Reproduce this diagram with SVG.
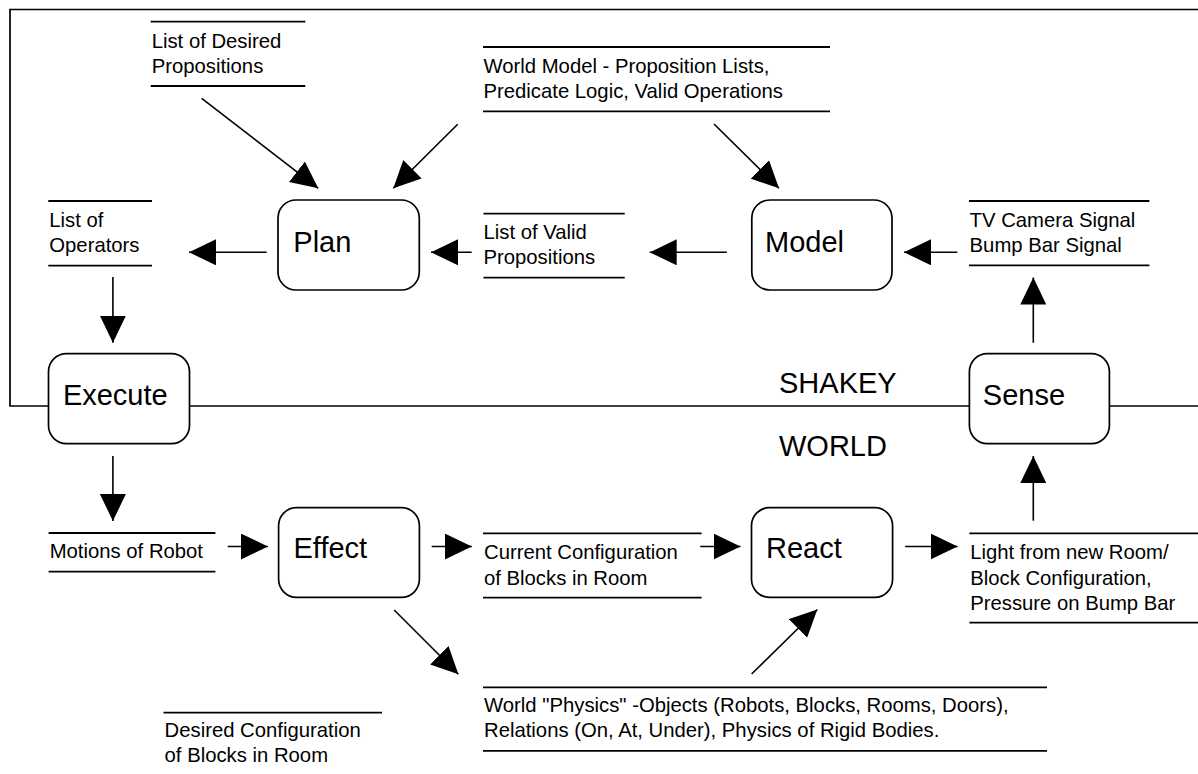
<svg xmlns="http://www.w3.org/2000/svg" width="1198" height="774" viewBox="0 0 1198 774">
  <style>
    .node rect { fill: #fff; stroke: #000; stroke-width: 1.7; }
    .node text { font-family: "Liberation Sans", Arial, sans-serif; font-size: 29px; fill: #000; }
    .store line { stroke: #000; stroke-width: 1.8; }
    .store text { font-family: "Liberation Sans", Arial, sans-serif; font-size: 20.3px; fill: #000; }
    .zone { font-family: "Liberation Sans", Arial, sans-serif; font-size: 29px; fill: #000; }
    .frame { fill: none; stroke: #000; stroke-width: 1.7; }
    .conn path { fill: none; stroke: #000; stroke-width: 1.6; marker-end: url(#head); }
  </style>
  <defs>
    <marker id="head" markerUnits="userSpaceOnUse" markerWidth="27" markerHeight="26" viewBox="0 0 27 26" refX="27" refY="13" orient="auto">
      <path d="M0,0 L27,13 L0,26 Z" fill="#000"/>
    </marker>
  </defs>

  <rect width="1198" height="774" fill="#fff"/>

  <!-- system boundary: SHAKEY above, WORLD below -->
  <path class="frame" d="M1198,9.5 H10 V406 H1198"/>
  <text class="zone" x="779" y="392.7">SHAKEY</text>
  <text class="zone" x="779" y="456">WORLD</text>

  <!-- data stores -->
  <g id="desired-propositions" class="store">
    <line x1="150.7" y1="21.7" x2="305.3" y2="21.7"/>
    <line x1="150.7" y1="86" x2="305.3" y2="86"/>
    <text x="151.7" y="48.3">List of Desired</text>
    <text x="151.7" y="72.7">Propositions</text>
  </g>
  <g id="world-model" class="store">
    <line x1="483" y1="47" x2="830" y2="47"/>
    <line x1="483" y1="111.3" x2="830" y2="111.3"/>
    <text x="483.5" y="73.3">World Model - Proposition Lists,</text>
    <text x="483.5" y="98.3">Predicate Logic, Valid Operations</text>
  </g>
  <g id="operators" class="store">
    <line x1="48.3" y1="201" x2="152" y2="201"/>
    <line x1="48.3" y1="265.7" x2="152" y2="265.7"/>
    <text x="49.3" y="226.7">List of</text>
    <text x="49.3" y="251.7">Operators</text>
  </g>
  <g id="valid-propositions" class="store">
    <line x1="483.5" y1="213.7" x2="624.7" y2="213.7"/>
    <line x1="483.5" y1="277.7" x2="624.7" y2="277.7"/>
    <text x="483.5" y="239.3">List of Valid</text>
    <text x="483.5" y="264.3">Propositions</text>
  </g>
  <g id="signals" class="store">
    <line x1="969" y1="201" x2="1149.4" y2="201"/>
    <line x1="969" y1="265.3" x2="1149.4" y2="265.3"/>
    <text x="969.6" y="226.7">TV Camera Signal</text>
    <text x="969.6" y="251.7">Bump Bar Signal</text>
  </g>
  <g id="motions" class="store">
    <line x1="48.6" y1="533" x2="215.4" y2="533"/>
    <line x1="48.6" y1="571.7" x2="215.4" y2="571.7"/>
    <text x="49.7" y="558.3">Motions of Robot</text>
  </g>
  <g id="current-config" class="store">
    <line x1="483" y1="533.3" x2="701.6" y2="533.3"/>
    <line x1="483" y1="597.7" x2="701.6" y2="597.7"/>
    <text x="484" y="559">Current Configuration</text>
    <text x="484" y="584.7">of Blocks in Room</text>
  </g>
  <g id="light" class="store">
    <line x1="969.4" y1="533.3" x2="1198" y2="533.3"/>
    <line x1="969.4" y1="622.7" x2="1198" y2="622.7"/>
    <text x="970.2" y="558.7">Light from new Room/</text>
    <text x="970.2" y="584.5">Block Configuration,</text>
    <text x="970.2" y="610">Pressure on Bump Bar</text>
  </g>
  <g id="world-physics" class="store">
    <line x1="483" y1="687.3" x2="1047" y2="687.3"/>
    <line x1="483" y1="750.8" x2="1047" y2="750.8"/>
    <text x="484" y="712">World "Physics" -Objects (Robots, Blocks, Rooms, Doors),</text>
    <text x="484" y="736.7">Relations (On, At, Under), Physics of Rigid Bodies.</text>
  </g>
  <g id="desired-config" class="store">
    <line x1="163.5" y1="712.7" x2="382" y2="712.7"/>
    <text x="164.6" y="736.8">Desired Configuration</text>
    <text x="164.6" y="761.8">of Blocks in Room</text>
  </g>

  <!-- processes -->
  <g id="plan" class="node">
    <rect x="278" y="200" width="141.3" height="90" rx="18"/>
    <text x="293.3" y="251.7">Plan</text>
  </g>
  <g id="model" class="node">
    <rect x="751.8" y="200" width="140.2" height="90" rx="18"/>
    <text x="765" y="251.7">Model</text>
  </g>
  <g id="execute" class="node">
    <rect x="48.5" y="353.6" width="141" height="90" rx="18"/>
    <text x="62.9" y="404.5">Execute</text>
  </g>
  <g id="sense" class="node">
    <rect x="969.4" y="353.6" width="140" height="90" rx="18"/>
    <text x="982.8" y="404.5">Sense</text>
  </g>
  <g id="effect" class="node">
    <rect x="278.6" y="507.7" width="140.8" height="89.6" rx="18"/>
    <text x="293.5" y="558.3">Effect</text>
  </g>
  <g id="react" class="node">
    <rect x="751.5" y="507.7" width="141.1" height="89.6" rx="18"/>
    <text x="766" y="558.3">React</text>
  </g>

  <!-- flows -->
  <g id="connectors" class="conn">
    <path d="M201.7,98.3 L318.3,188.3"/>
    <path d="M457.7,124.3 L393.3,188.3"/>
    <path d="M714,124 L779,188.3"/>
    <path d="M266.7,252.3 L189,252.3"/>
    <path d="M471.7,252.3 L431,252.3"/>
    <path d="M726.8,252.3 L649.7,252.3"/>
    <path d="M957.3,252.3 L904,252.3"/>
    <path d="M1033.3,342.7 L1033.3,277.5"/>
    <path d="M112.9,277 L112.9,342.7"/>
    <path d="M112.9,456 L112.9,521"/>
    <path d="M227.7,546.5 L267.9,546.5"/>
    <path d="M431.7,546.5 L471.8,546.5"/>
    <path d="M700.2,546.5 L740.5,546.5"/>
    <path d="M905.2,546.5 L957.6,546.5"/>
    <path d="M1033.3,520.7 L1033.3,456"/>
    <path d="M394.2,610 L458.4,674.3"/>
    <path d="M751.6,674 L817.3,609.5"/>
  </g>
</svg>
